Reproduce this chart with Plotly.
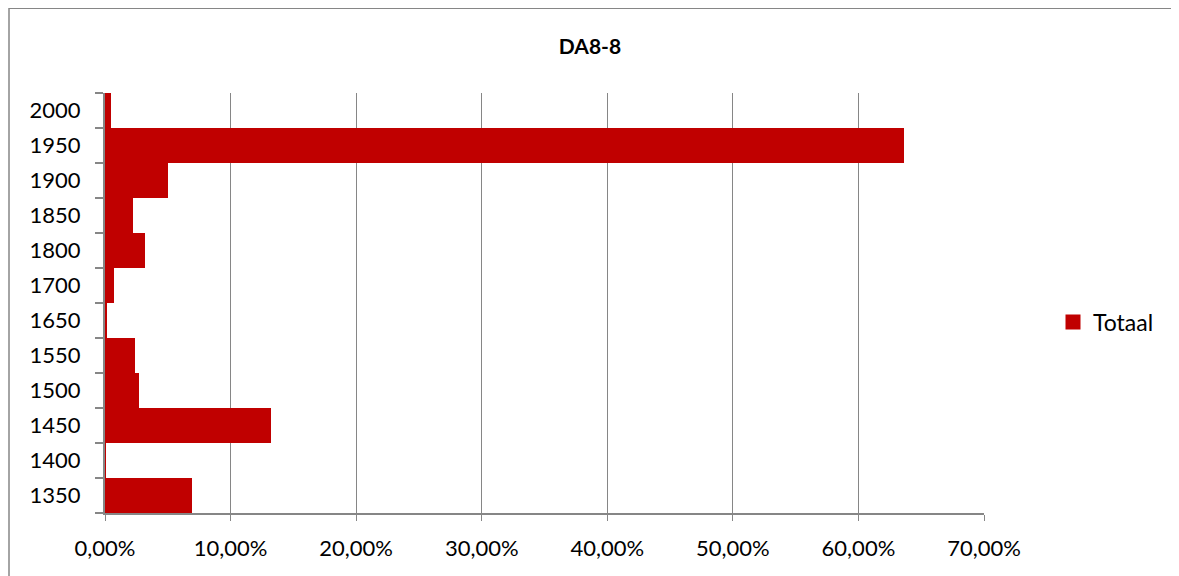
import plotly.graph_objects as go

categories = ["1350", "1400", "1450", "1500", "1550", "1650", "1700", "1800", "1850", "1900", "1950", "2000"]
totaal = [0.0693, 0.0005, 0.132, 0.0267, 0.0235, 0.0016, 0.0069, 0.0317, 0.0221, 0.0499, 0.636, 0.0045]

# page body has an 8px margin; work in screen coordinates and shift
O = 8
SW, SH = 1179, 576
W, H = SW - O, SH - O
L, R, T, B = 105 - O, 984 - O, 93 - O, 513 - O

def px(x):
    return (x - O - L) / (R - L)

def py(y):
    return (B - (y - O)) / (B - T)

grey = "#868686"
font = "Lato, 'Open Sans', sans-serif"

fig = go.Figure()
fig.add_trace(go.Bar(
    y=categories, x=totaal, orientation="h", name="Totaal", showlegend=False,
    marker=dict(color="#C00000", line=dict(width=0)),
))
fig.add_trace(go.Scatter(
    x=[None], y=[None], mode="markers", name="Totaal", showlegend=True,
    marker=dict(symbol="square", size=15, color="#C00000"),
))

fig.update_layout(
    width=W, height=H,
    margin=dict(l=L, r=W - R, t=T, b=H - B, pad=0, autoexpand=False),
    paper_bgcolor="white", plot_bgcolor="white",
    separators=",.",
    bargap=0,
    font=dict(family=font, color="#000000", size=20),
    title=dict(text="<b>DA8-8</b>", x=(590 - O) / W, xref="container", xanchor="center",
               y=1 - (47 - O) / H, yref="container", yanchor="middle",
               font=dict(family=font, size=21, color="#000000")),
    showlegend=True,
    legend=dict(x=px(1053), y=py(322), xanchor="left", yanchor="middle",
                font=dict(family=font, size=23, color="#000000"),
                bgcolor="rgba(0,0,0,0)", itemwidth=30, tracegroupgap=0),
    xaxis=dict(range=[0, 0.7], dtick=0.1, tick0=0, tickformat=".2%",
               showgrid=True, gridcolor=grey, gridwidth=1,
               showline=True, linecolor=grey, linewidth=2,
               ticks="outside", ticklen=6, tickcolor=grey, tickwidth=1,
               ticklabelstandoff=9, zeroline=False,
               tickfont=dict(family=font, size=22, color="#000000")),
    yaxis=dict(type="category", categoryorder="array", categoryarray=categories,
               showgrid=False, showline=True, linecolor=grey, linewidth=2,
               ticks="outside", ticklen=8, tickcolor=grey, tickwidth=1.5,
               tickson="boundaries", ticklabelstandoff=18, zeroline=False,
               tickfont=dict(family=font, size=22, color="#000000")),
    shapes=[
        dict(type="line", xref="paper", yref="paper", x0=px(9), x1=px(SW + 5), y0=py(8), y1=py(8),
             line=dict(color=grey, width=2)),
        dict(type="line", xref="paper", yref="paper", x0=px(9), x1=px(9), y0=py(8), y1=py(SH + 5),
             line=dict(color=grey, width=1.5)),
    ],
)

fig.write_html("out.html", config={"displayModeBar": False})
